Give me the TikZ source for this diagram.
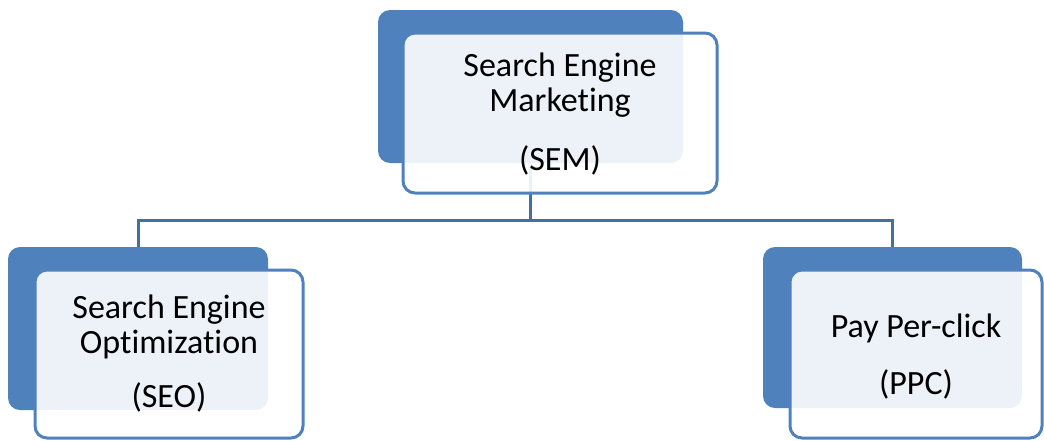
\documentclass[tikz,border=0pt]{standalone}
\usepackage{fontspec}
\setmainfont{Carlito}[Ligatures=NoCommon]
\definecolor{smblue}{HTML}{4F81BD}
\definecolor{smline}{HTML}{41719C}

\begin{document}
\begin{tikzpicture}[x=1pt,y=-1pt,
    back node/.style={rectangle,rounded corners=12pt,fill=smblue,inner sep=0pt},
    front node/.style={rectangle,rounded corners=12pt,draw=smblue,line width=3pt,fill=white,fill opacity=0.9,draw opacity=1,text opacity=1,align=center,inner sep=0pt,font=\fontsize{34}{35}\selectfont},
    link/.style={draw=smline,line width=3pt}]

        \useasboundingbox (0,0) rectangle (1044,440);

        \node[back node,minimum width=305pt,minimum height=153pt] (semback) at (530.5,86.5) {};
        \node[back node,minimum width=260pt,minimum height=163pt] (seoback) at (138,328.5)  {};
        \node[back node,minimum width=259pt,minimum height=161pt] (ppcback) at (892.5,327.5) {};

        \coordinate (bus) at (530.5,220);

          \path[link]
            (semback.south) -- (bus)
            (bus) -| (seoback.north)
            (bus) -| (ppcback.north);

        \node[front node,minimum width=314pt,minimum height=160pt,text depth=2pt] (sem) at (560,113)
            {Search Engine\\Marketing\\[24pt](SEM)};
        \node[front node,minimum width=268pt,minimum height=168pt] (seo) at (169,354)
            {Search Engine\\Optimization\\[19pt](SEO)};
        \node[front node,minimum width=252pt,minimum height=168pt,text depth=0pt] (ppc) at (916,354)
            {Pay Per-click\\[22pt](PPC)};
        \end{tikzpicture}
\end{document}
